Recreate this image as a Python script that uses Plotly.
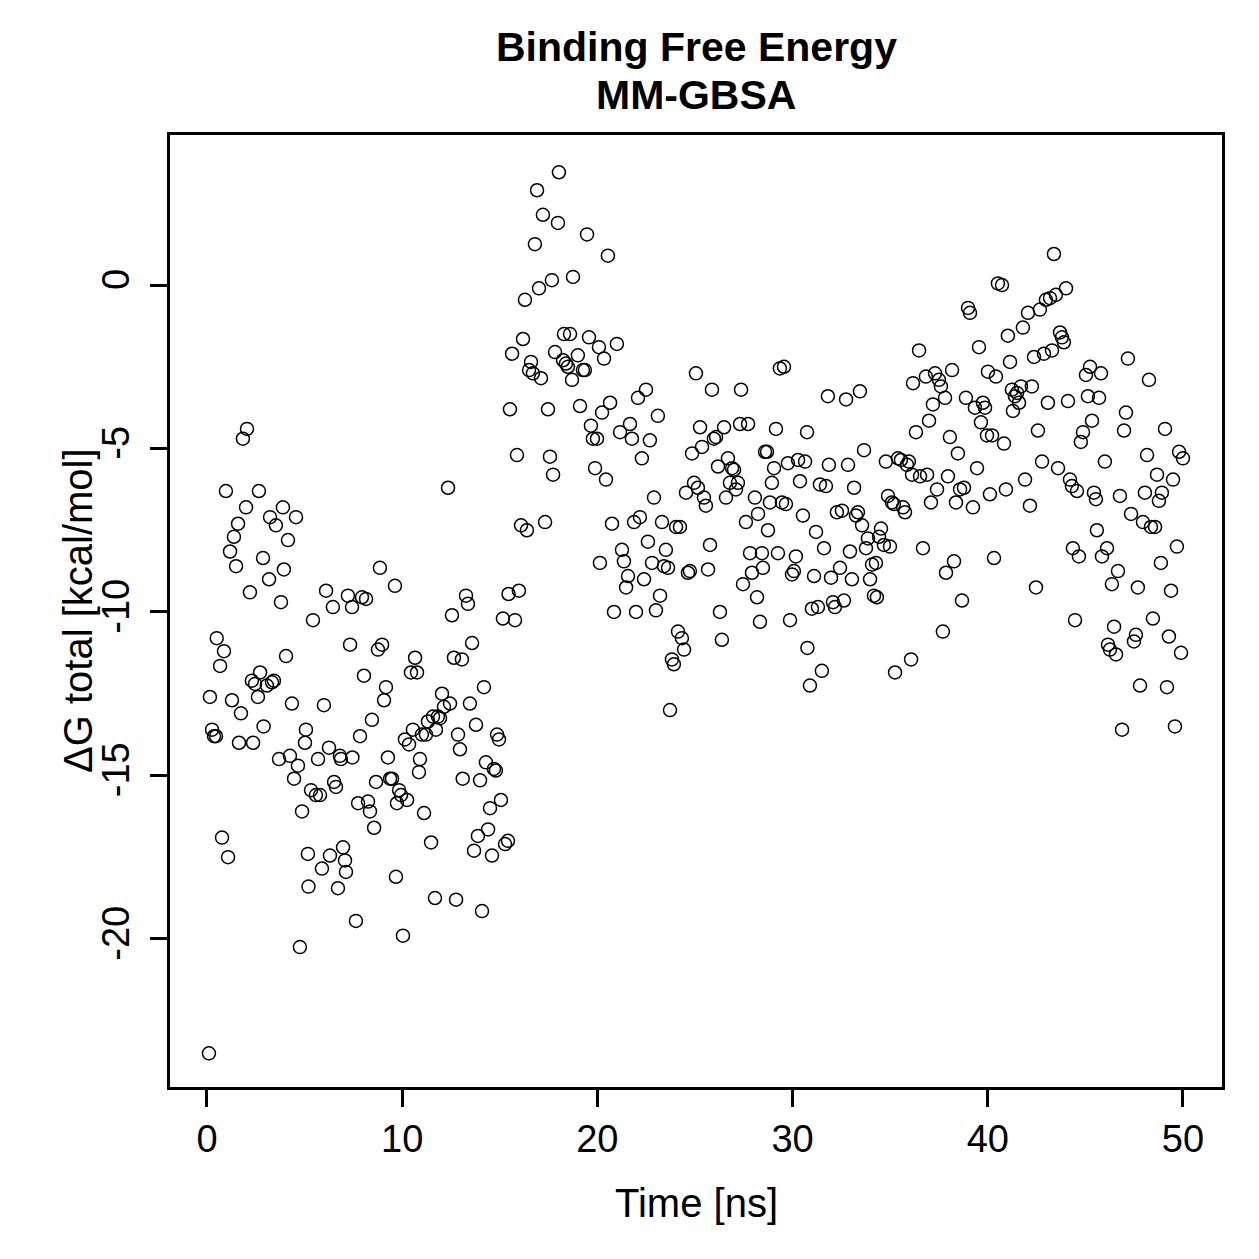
import plotly.graph_objects as go

# Time [ns] and ΔG total [kcal/mol]
time_ns = [
 0.10,0.15,0.26,0.36,0.46,0.50,0.67,0.77,0.87,0.97,1.08,1.18,1.28,1.38,1.49,1.59,1.64,1.74,1.84,2.05,
 2.00,2.20,2.30,2.36,2.46,2.61,2.66,2.72,2.87,2.90,3.07,3.18,3.23,3.33,3.43,3.53,3.69,3.79,3.89,3.94,
 4.05,4.15,4.25,4.35,4.46,4.56,4.66,4.76,4.87,5.02,5.07,
 5.17,5.20,5.33,5.43,5.58,5.69,5.79,5.89,5.99,6.10,6.25,6.30,6.45,6.51,6.61,6.71,6.81,6.86,6.97,7.07,
 7.12,7.22,7.33,7.43,7.45,7.63,7.74,7.84,7.94,8.04,8.15,8.25,8.35,8.45,8.56,8.66,8.76,8.86,8.97,9.07,
 9.17,9.27,9.38,9.48,9.63,9.68,9.73,9.84,9.94,10.04,10.14,10.25,
 10.35,10.45,10.55,10.66,10.76,10.86,10.91,11.01,11.12,11.22,11.32,11.48,11.58,11.68,11.73,11.83,11.94,
 12.04,12.14,12.35,12.45,12.55,12.65,12.76,12.86,12.96,13.06,13.10,13.27,13.37,13.47,13.58,13.68,13.78,
 13.88,13.99,14.09,14.19,14.29,14.40,14.50,14.60,14.70,14.80,14.86,14.96,
 15.06,15.16,15.27,15.42,15.45,15.52,15.63,15.78,15.88,15.98,16.09,16.19,16.29,16.39,16.50,16.60,16.70,
 16.80,16.91,17.01,17.11,17.21,17.32,17.47,17.57,17.67,17.73,17.83,17.98,18.03,18.24,18.29,18.39,18.49,
 18.60,18.70,18.75,19.00,19.11,19.26,19.36,19.47,19.57,19.67,19.77,19.88,19.98,20.08,20.24,20.34,20.44,
 20.54,20.65,20.75,
 20.13,20.85,21.00,21.16,21.26,21.36,21.47,21.57,21.67,21.77,21.88,21.98,22.08,22.18,22.28,22.39,22.49,
 22.59,22.69,22.80,22.90,23.00,23.10,23.21,23.31,23.41,23.51,23.62,23.72,23.82,23.92,24.03,24.13,24.23,
 24.33,24.44,24.54,24.64,24.74,24.85,24.95,
 25.05,25.15,25.26,25.36,25.46,25.56,25.67,25.77,25.87,25.97,26.08,26.18,26.28,26.38,26.49,26.59,26.69,
 26.79,26.90,27.00,27.10,27.20,27.31,27.36,27.46,27.61,27.72,27.82,27.92,28.07,28.18,28.23,28.33,28.43,
 28.48,28.59,28.69,28.74,28.84,28.94,29.05,29.15,29.25,29.35,29.46,29.56,29.66,29.76,29.87,29.97,
 30.07,30.17,30.28,30.38,30.53,30.64,30.74,30.76,30.89,30.99,31.10,31.20,31.30,31.40,31.50,31.61,31.71,
 31.81,31.86,31.97,32.07,32.17,32.27,32.43,32.53,32.63,32.74,32.84,32.94,33.04,33.15,33.25,33.35,33.45,
 33.56,33.66,33.76,33.86,33.97,34.07,34.17,34.27,34.32,34.43,34.53,34.68,34.78,34.89,34.99,
 35.09,35.19,35.25,35.40,35.55,35.66,35.76,35.86,35.96,36.07,36.12,36.17,36.32,36.48,36.53,36.68,36.83,
 36.89,36.99,37.09,37.19,37.30,37.40,37.50,37.60,37.70,37.81,37.86,37.96,38.06,38.17,38.27,38.37,38.47,
 38.58,38.68,38.78,38.88,38.99,39.09,39.24,39.34,39.45,39.55,39.65,39.75,39.86,39.96,40.01,
 40.11,40.22,40.32,40.42,40.52,40.73,40.83,40.93,41.03,41.14,41.24,41.29,41.39,41.50,41.60,41.70,41.80,
 41.91,42.06,42.16,42.26,42.37,42.47,42.57,42.67,42.78,42.88,42.98,43.08,43.19,43.29,43.39,43.49,43.60,
 43.70,43.80,43.90,44.01,44.11,44.21,44.31,44.36,44.47,44.57,44.67,44.77,44.88,
 45.03,45.13,45.24,45.34,45.44,45.54,45.59,45.70,45.80,45.85,46.00,46.11,46.16,46.26,46.36,46.47,46.57,
 46.67,46.77,46.88,46.98,47.08,47.18,47.34,47.49,47.59,47.69,47.80,47.95,48.05,48.16,48.26,48.36,48.46,
 48.57,48.67,48.77,48.87,48.92,49.08,49.18,49.28,49.39,49.49,49.59,49.69,49.80,49.90,50.00,
]

dg_total = [
 -23.5,-12.6,-13.6,-13.8,-13.8,-10.8,-11.65,-16.9,-11.2,-6.3,-17.5,-8.15,-12.7,-7.7,-8.6,-7.3,-14.0,-13.1,-4.7,-4.4,
 -6.8,-9.4,-12.1,-14.0,-12.2,-12.6,-6.3,-11.85,-8.35,-13.5,-12.25,-9.0,-7.1,-12.15,-12.1,-7.35,-14.5,-9.7,-6.8,-8.7,
 -11.35,-7.8,-14.4,-12.8,-15.1,-7.1,-14.7,-20.25,-16.1,-14.0,-13.6,
 -17.4,-18.4,-15.45,-10.25,-15.6,-14.5,-15.6,-17.85,-12.85,-9.35,-14.15,-17.45,-9.85,-15.2,-15.35,-18.45,-14.4,-14.5,-17.2,-17.6,
 -17.95,-9.5,-11.0,-9.85,-14.45,-19.45,-15.85,-13.8,-9.55,-11.95,-9.6,-15.8,-16.1,-13.3,-16.6,-15.2,-11.15,-8.65,-11.0,-12.7,
 -12.3,-14.45,-15.1,-15.1,-9.2,-18.1,-15.85,-15.45,-15.6,-19.9,-13.9,-15.75,
 -14.05,-11.85,-13.6,-11.4,-11.85,-14.9,-14.5,-13.75,-16.15,-13.75,-13.35,-17.05,-13.2,-18.75,-13.6,-13.2,-13.25,
 -12.5,-12.9,-6.2,-12.8,-10.1,-11.4,-18.8,-13.75,-14.2,-11.45,-15.1,-9.5,-9.75,-12.8,-10.95,-17.3,-13.45,
 -16.85,-15.15,-19.15,-12.3,-14.6,-16.65,-16.0,-17.45,-14.8,-14.85,-13.75,-13.9,
 -15.75,-10.2,-17.1,-17.0,-9.45,-3.8,-2.1,-10.25,-5.2,-9.35,-7.35,-1.65,-0.45,-7.5,-2.6,-2.35,-2.7,
 1.25,2.9,-0.1,-2.85,2.15,-7.25,-3.8,-5.25,0.15,-5.8,-2.05,1.9,3.45,-2.3,-1.5,-2.4,-2.5,
 -1.5,-2.9,0.25,-2.15,-3.7,-2.6,-2.6,1.55,-1.6,-4.3,-4.7,-5.6,-4.7,-1.9,-3.9,-2.25,-5.95,
 0.9,-3.6,-7.3,
 -8.5,-10.0,-1.8,-4.5,-8.1,-8.45,-9.25,-8.9,-4.25,-4.7,-7.25,-10.0,-3.45,-7.1,-5.3,-9.0,-3.2,
 -7.85,-4.75,-8.5,-6.5,-9.95,-4.0,-9.5,-7.25,-8.6,-8.1,-8.65,-13.0,-11.45,-11.6,-7.4,-10.6,-7.4,
 -10.8,-11.15,-6.35,-8.8,-8.75,-5.15,-6.05,
 -2.7,-6.2,-4.35,-4.95,-6.5,-6.75,-8.7,-7.95,-3.2,-4.7,-4.65,-5.55,-10.0,-10.85,-4.35,-6.5,-5.3,
 -6.05,-5.6,-5.65,-6.25,-6.05,-4.25,-3.2,-9.15,-7.25,-4.25,-8.2,-8.8,-6.5,-9.55,-7.0,-10.3,-8.2,
 -8.65,-5.1,-5.1,-7.5,-6.65,-6.05,-5.6,-4.4,-8.2,-2.55,-6.65,-2.5,-6.7,-5.45,-10.25,-8.85,
 -8.75,-8.3,-5.35,-6.0,-7.05,-5.4,-4.5,-11.1,-12.25,-9.9,-8.9,-7.55,-9.85,-6.1,-11.8,-8.05,-6.15,
 -3.4,-5.5,-8.95,-9.7,-9.85,-6.95,-8.65,-6.9,-9.65,-3.5,-5.5,-8.15,-9.0,-6.2,-7.05,-6.95,-3.25,
 -7.35,-5.05,-8.05,-7.75,-9.0,-8.55,-9.5,-8.5,-9.55,-7.7,-7.45,-7.95,-5.4,-6.45,-8.0,
 -6.65,-6.7,-11.85,-5.3,-5.35,-6.8,-6.95,-5.5,-5.4,-11.45,-5.8,-3.0,-4.5,-2.0,-5.85,-8.05,-2.8,
 -5.8,-4.15,-6.65,-3.65,-2.7,-6.25,-2.9,-3.1,-10.6,-3.45,-8.8,-5.85,-4.65,-2.6,-8.45,-6.65,-5.15,
 -6.25,-9.65,-6.2,-3.45,-0.7,-0.85,-6.8,-3.75,-5.6,-1.9,-4.2,-3.6,-3.75,-4.6,-2.65,
 -6.4,-4.6,-8.35,-2.8,0.05,0.0,-4.85,-6.25,-1.55,-2.35,-3.2,-3.85,-3.4,-3.3,-3.6,-3.1,-1.3,
 -5.95,-0.85,-6.75,-3.1,-2.2,-9.25,-4.45,-0.75,-5.4,-2.1,-0.45,-3.6,-0.4,-2.0,0.95,-0.3,-5.6,
 -1.45,-1.6,-1.75,-0.1,-3.55,-5.95,-6.15,-8.05,-10.25,-6.3,-8.3,-4.8,-4.5,
 -2.75,-3.4,-2.5,-4.15,-6.35,-6.55,-7.5,-3.45,-2.7,-8.3,-5.4,-8.05,-11.0,-11.15,-9.15,-10.45,-11.3,
 -8.75,-6.45,-13.6,-4.45,-3.9,-2.25,-7.0,-10.9,-10.7,-9.25,-12.25,-7.25,-6.35,-5.2,-2.9,-7.4,-10.2,
 -7.4,-5.8,-6.6,-8.5,-6.35,-4.4,-12.3,-10.75,-9.35,-5.95,-13.5,-8.0,-5.1,-11.25,-5.3,
]

x_ticks = [0, 10, 20, 30, 40, 50]
y_ticks = [-20, -15, -10, -5, 0]
y_tick_text = ["-20", "-15", "-10", "-5", "0"]

FONT = "Liberation Sans, Arial, Helvetica, sans-serif"

fig = go.Figure()
fig.add_trace(go.Scatter(
    x=time_ns, y=dg_total, mode="markers",
    marker=dict(symbol="circle-open", size=13, color="black",
                line=dict(color="black", width=1.5)),
    hoverinfo="x+y", showlegend=False,
))

fig.update_layout(
    width=1259, height=1259,
    margin=dict(l=170, r=37, t=135, b=172),
    paper_bgcolor="white", plot_bgcolor="white",
    font=dict(family=FONT, color="black", size=38),
    xaxis=dict(range=[-1.895, 52.0], tickvals=x_ticks, ticks="outside", ticklen=17,
               tickwidth=2.5, tickcolor="black", showgrid=False, zeroline=False,
               showline=True, linecolor="black", linewidth=2.5, mirror=True,
               tickfont=dict(size=38, family=FONT), ticklabelstandoff=0),
    yaxis=dict(range=[-24.53, 4.59], tickvals=y_ticks, ticktext=y_tick_text,
               ticks="outside", ticklen=17, tickwidth=2.5, tickcolor="black",
               showgrid=False, zeroline=False, showline=True, linecolor="black",
               linewidth=2.5, mirror=True, tickangle=-90,
               tickfont=dict(size=38, family=FONT), ticklabelstandoff=6),
    annotations=[
        dict(text="<b>Binding Free Energy</b>", x=0.5, y=47, xref="paper", yref="paper",
             showarrow=False, font=dict(size=41, family=FONT)),
        dict(text="<b>MM-GBSA</b>", x=0.5, y=95, xref="paper", yref="paper",
             showarrow=False, font=dict(size=41, family=FONT)),
        dict(text="Time [ns]", x=0.5, y=1203, xref="paper", yref="paper",
             showarrow=False, font=dict(size=40, family=FONT)),
        dict(text="ΔG total [kcal/mol]", x=78, y=0.5, xref="paper", yref="paper",
             showarrow=False, textangle=-90, font=dict(size=40, family=FONT)),
    ],
)

# convert pixel-based annotation positions to paper coordinates
plot_w = 1259 - 170 - 37
plot_h = 1259 - 135 - 172
anns = list(fig.layout.annotations)
for a in anns:
    if a.yref == "paper" and a.y is not None and a.y > 1.5:
        a.y = (1259 - 172 - a.y) / plot_h
        a.yanchor = "middle"
    if a.xref == "paper" and a.x is not None and a.x > 1.5:
        a.x = (a.x - 170) / plot_w
        a.xanchor = "center"
fig.layout.annotations = anns

fig.write_html("out.html")
